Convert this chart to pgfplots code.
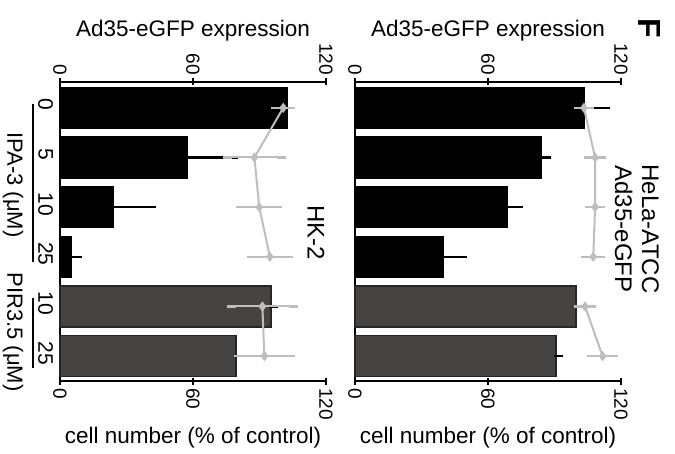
\documentclass[border=0pt]{standalone}
\usepackage{fontspec}
\setmainfont{Liberation Sans}
\usepackage{pgfplots}
\pgfplotsset{compat=1.18}
\definecolor{lgrey}{RGB}{190,190,190}
\definecolor{dgrey}{RGB}{70,68,66}
\newcommand{\fs}[1]{\fontsize{#1}{#1}\selectfont}
\pgfplotsset{
  panel/.style={
    scale only axis, width=266pt, height=299pt,
    anchor=south west,
    xmin=0, xmax=120, ymin=-0.5, ymax=5.52,
    xtick={0,60,120},
    tick align=outside, major tick length=7pt,
    tick style={line width=2pt, black},
    /pgf/number format/assume math mode=true,
    tick label style={font=\fs{19}},
    clip=false,
  },
  bottompanel/.style={panel,
    axis x line=bottom, axis y line=left,
    axis line style={-, line width=2pt},
    xticklabel style={rotate=-90, anchor=west},
    xlabel={cell number (\% of control)},
    every axis x label/.style={at={(axis description cs:0.5,0)}, anchor=center, yshift=-57pt, font=\fs{22.5}},
  },
  toppanel/.style={panel,
    axis x line=top, axis y line=none, ytick=\empty,
    axis line style={-, line width=2pt},
    xticklabel style={rotate=-90, anchor=east},
    xlabel={Ad35-eGFP expression},
    every axis x label/.style={at={(axis description cs:0.5,1)}, anchor=center, yshift=51pt, font=\fs{22.5}},
  },
  cellbar/.style={xbar, bar shift=0pt, bar width=41pt, line width=1.5pt,
    error bars/x dir=plus, error bars/x explicit,
    error bars/error bar style={line width=2.2pt, black},
    error bars/error mark options={line width=2.2pt, black, mark size=4.5pt}},
  gfp/.style={lgrey, line width=2pt, mark=diamond*, mark size=3.5pt,
    mark options={fill=lgrey, draw=lgrey},
    error bars/x dir=both, error bars/x explicit,
    error bars/error bar style={line width=2pt, lgrey},
    error bars/error mark options={line width=2.2pt, lgrey, mark size=4.5pt}},
}
\begin{document}
\begin{tikzpicture}
\path[use as bounding box] (0pt,0pt) rectangle (675pt,-454pt);
% ---------------- HK-2 panel ----------------
\begin{axis}[bottompanel, at={(60pt,-381pt)},
  ytick={0,1,2,3,4,5}, yticklabels={25,10,25,10,5,0},
  ytick style={draw=none},
  yticklabel style={rotate=-90, anchor=north, font=\fs{21}, xshift=-3pt}]
\addplot[fill=black, draw=black, cellbar] coordinates {
  (102.5,5) +- (1.3,0)
  (57.6,4)  +- (20.6,0)
  (23.8,3)  +- (17.6,0)
  (5.3,2)   +- (2.5,0)};
\addplot[fill=dgrey, draw=black!85, cellbar] coordinates {
  (95.2,1) +- (1.3,0)
  (79.4,0) +- (7.1,0)};
\end{axis}
\begin{axis}[toppanel, at={(60pt,-381pt)}]
\addplot[gfp] coordinates {
  (100.7,5) +- (3.5,0)
  (87.7,4)  +- (12.2,0)
  (89.9,3)  +- (8.3,0)
  (94.7,2)  +- (8.4,0)};
\addplot[gfp] coordinates {
  (91.3,1) +- (13.9,0)
  (92.2,0) +- (11.6,0)};
\end{axis}
% ---------------- HeLa panel ----------------
\begin{axis}[bottompanel, at={(355pt,-381pt)}, ytick=\empty]
\addplot[fill=black, draw=black, cellbar] coordinates {
  (103.3,5) +- (9.9,0)
  (83.9,4)  +- (2.3,0)
  (68.9,3)  +- (4.8,0)
  (39.6,2)  +- (9.0,0)};
\addplot[fill=dgrey, draw=black!85, cellbar] coordinates {
  (99.6,1) +- (1.2,0)
  (90.7,0) +- (1.0,0)};
\end{axis}
\begin{axis}[toppanel, at={(355pt,-381pt)}]
\addplot[gfp] coordinates {
  (103.3,5) +- (2.3,0)
  (108.3,4) +- (2.9,0)
  (108.3,3) +- (2.4,0)
  (107.5,2) +- (3.4,0)};
\addplot[gfp] coordinates {
  (103.8,1) +- (3.0,0)
  (111.7,0) +- (4.8,0)};
\end{axis}
% ---------------- annotations ----------------
\draw[line width=2pt] (33pt,-104pt) -- (33pt,-262pt);
\draw[line width=2pt] (33pt,-298pt) -- (33pt,-368pt);
\node[rotate=-90, font=\fs{22}] at (13pt,-185pt) {IPA-3 (μM)};
\node[rotate=-90, font=\fs{22}] at (13pt,-332pt) {PIR3.5 (μM)};
\node[rotate=-90, font=\fs{24}] at (316pt,-233pt) {HK-2};
\node[rotate=-90, font=\fontsize{24}{27}\selectfont, align=center] at (637pt,-229pt) {HeLa-ATCC\\Ad35-eGFP};
\node[rotate=-90, font=\fs{32}\bfseries] at (650pt,-28pt) {F};
\end{tikzpicture}
\end{document}
